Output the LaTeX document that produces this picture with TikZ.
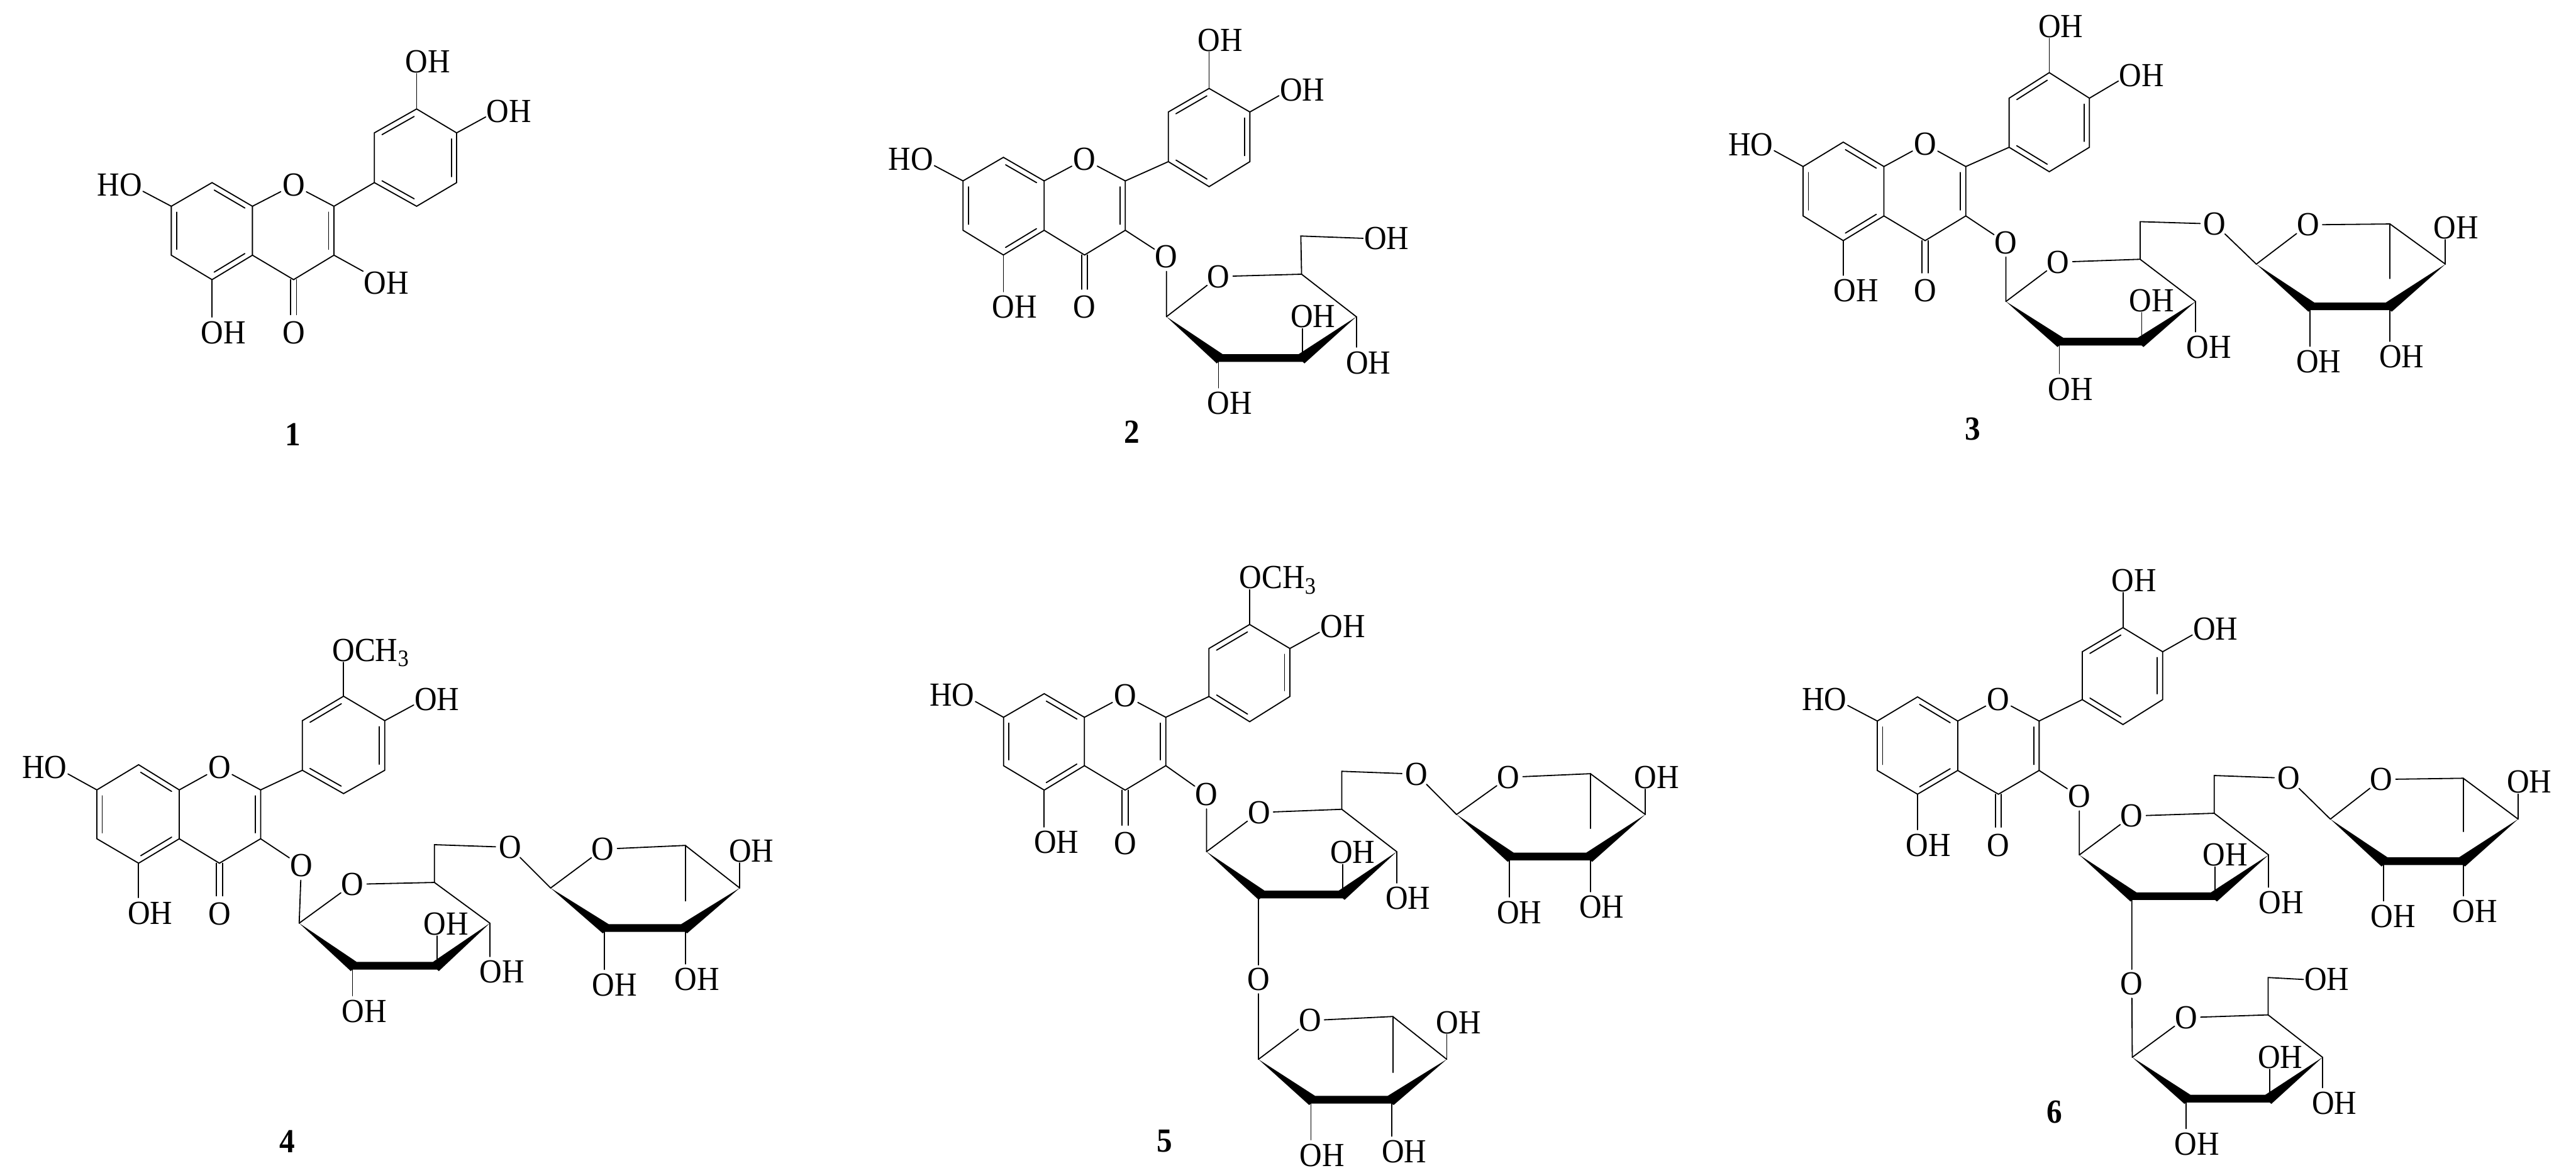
\documentclass[tikz,border=0pt]{standalone}
\usepackage{fontspec}
\setmainfont{Liberation Serif}[FakeStretch=0.92]
\usetikzlibrary{calc}
\tikzset{
  bond/.style={line width=0.55pt,line cap=round,line join=miter,draw=black},
  lab/.style={font=\fontsize{16.2}{18}\selectfont,inner sep=.01cm,text height=.37cm,text depth=0pt,anchor=center},
  oxy/.style={font=\fontsize{16.2}{18}\selectfont,circle,inner sep=-.02cm,text height=.37cm,text depth=0pt,anchor=center},
  molno/.style={font=\fontsize{16.2}{18}\selectfont\bfseries,inner sep=0pt,anchor=center},
  gap/.style={shorten >=.06cm}
}
\newcommand{\putatoms}[1]{\foreach \nm/\xx/\yy in {#1}{\coordinate (\nm) at (\xx,\yy);}}
\newcommand{\putlabels}[1]{\foreach \nm/\xx/\yy/\tx in {#1}{\node[lab] (\nm) at (\xx,\yy) {\tx};}}
\newcommand{\putoxy}[1]{\foreach \nm/\xx/\yy in {#1}{\node[oxy] (\nm) at (\xx,\yy) {O};}}
\newcommand{\dbond}[3]{\draw[bond] ($(#1)!.12!(#2)!.09cm!#3:(#2)$) -- ($(#1)!.88!(#2)!.09cm!#3:(#2)$);}
\newcommand{\ohup}[2]{\draw[bond] (#1) -- (#2.south -| #1);}
\newcommand{\ohdown}[2]{\draw[bond,gap] (#1) -- (#2.north -| #1);}
% the flavone skeleton
\newcommand{\flavone}{%
  \draw[bond] (c7) -- (c8) -- (c8a) -- (c4a) -- (c5) -- (c6) -- cycle;
  \draw[bond] (c8a) -- (o1) -- (c2) -- (c3) -- (c4) -- (c4a);
  \draw[bond] (c2) -- (c1p) -- (c2p) -- (c3p) -- (c4p) -- (c5p) -- (c6p) -- (c1p);
  \dbond{c7}{c6}{90}\dbond{c8}{c8a}{-90}\dbond{c4a}{c5}{-90}\dbond{c2}{c3}{-90}
  \dbond{c2p}{c3p}{-90}\dbond{c4p}{c5p}{-90}\dbond{c1p}{c6p}{90}
  \draw[bond,gap] ([xshift=-.05cm]c4) -- ([xshift=-.05cm]o4.north);
  \draw[bond,gap] ([xshift=.05cm]c4) -- ([xshift=.05cm]o4.north);
  \draw[bond] (c7) -- (o7.-15);
  \ohup{c3p}{o3p}
  \draw[bond] (c4p) -- (o4p.194);
  \ohdown{c5}{o5}
}
% pyranose ring: s1 s2 s3 s4 s5 ringO
\newcommand{\sugarring}[6]{%
  \draw[bond] (#1) -- (#6) -- (#5) -- (#4);
  \fill[black] (#1) -- ([shift={(.07cm,.065cm)}]#2) -- ([shift={(-.07cm,.065cm)}]#3) -- (#4)
    -- ([shift={(.03cm,-.09cm)}]#3) -- ([yshift=-.065cm]#3) -- ([yshift=-.065cm]#2)
    -- ([shift={(-.03cm,-.09cm)}]#2) -- cycle;
}
\begin{document}
\begin{tikzpicture}
\useasboundingbox[fill=white] (0,0) rectangle (43.53,-19.81);

% ---------- 1 ----------
\begin{scope}[shift={(1.30,-0.50)},x=.006378cm,y=-.004591cm,name prefix=a-]
\putatoms{c7/250/650,c8/358/563,c8a/465/650,c2/681/650,c3/681/830,c4/574/920,c4a/465/830,c5/358/920,c6/250/830,c1p/788/563,c2p/788/380,c3p/900/292,c4p/1006/380,c5p/1006/563,c6p/900/650}
\putoxy{o1/574/572,o4/574/1115}
\putlabels{o7/113/572/HO,o3p/930/118/OH,o4p/1145/300/OH,o3/820/933/OH,o5/388/1115/OH}
\flavone
\draw[bond] (c3) -- (o3.north west);
\node[molno] (no) at (572,1490) {1};
\end{scope}

% ---------- 2 ----------
\begin{scope}[shift={(14.50,0)},x=.006378cm,y=-.004847cm,name prefix=b-]
\putatoms{c7/278/630,c8/385/548,c8a/493/630,c2/708/630,c3/708/802,c4/600/888,c4a/493/802,c5/385/888,c6/278/802,c1p/822/563,c2p/822/390,c3p/930/308,c4p/1038/390,c5p/1038/563,c6p/930/650}
\putatoms{s1/817/1103,s2/955/1247,s3/1178/1247,s4/1320/1103,s5/1175/955,s6/1173/822}
\putoxy{o1/600/555,o4/600/1070,o3/817/895,so/955/963}
\putlabels{o7/140/555/HO,o3p/960/140/OH,o4p/1177/313/OH,o5/415/1070/OH,sh3/1205/1103/OH,sh4/1352/1263/OH,sh2/985/1405/OH,sh6/1400/830/OH}
\flavone
\draw[bond] (c3) -- (o3) -- (s1);
\sugarring{s1}{s2}{s3}{s4}{s5}{so}
\draw[bond] (s5) -- (s6) -- (sh6.west);
\ohup{s3}{sh3}\ohdown{s4}{sh4}\ohdown{s2}{sh2}
\node[molno] (no) at (725,1505) {2};
\end{scope}

% ---------- 3 ----------
\begin{scope}[shift={(28.80,0)},x=.0089286cm,y=-.004847cm,name prefix=c-]
\putatoms{c7/187/580,c8/263/495,c8a/340/580,c2/495/580,c3/495/752,c4/418/838,c4a/340/752,c5/263/838,c6/187/752,c1p/577/513,c2p/577/342,c3p/653/253,c4p/729/342,c5p/729/513,c6p/653/598}
\putatoms{s1/571/1050,s2/672/1190,s3/828/1190,s4/930/1050,s5/825/903,s6/825/772}
\putatoms{r1/1045/920,r2/1147/1067,r3/1298/1067,r4/1403/920,r5/1298/780,r6/1298/970}
\putoxy{o1/418/502,o4/418/1013,o3/571/845,so/670/913,lk/966/780,ro/1143/783}
\putlabels{o7/88/503/HO,o3p/675/92/OH,o4p/828/262/OH,o5/287/1013/OH,sh3/847/1047/OH,sh4/955/1210/OH,sh2/693/1355/OH,rh4/1423/793/OH,rh2/1163/1260/OH,rh3/1320/1243/OH}
\flavone
\draw[bond] (c3) -- (o3) -- (s1);
\sugarring{s1}{s2}{s3}{s4}{s5}{so}
\draw[bond] (s5) -- (s6) -- (lk) -- (r1);
\ohup{s3}{sh3}\ohdown{s4}{sh4}\ohdown{s2}{sh2}
\sugarring{r1}{r2}{r3}{r4}{r5}{ro}
\draw[bond] (r5) -- (r6);
\ohup{r4}{rh4}\ohdown{r2}{rh2}\ohdown{r3}{rh3}
\node[molno] (no) at (508,1495) {3};
\end{scope}

% ---------- 4 ----------
\begin{scope}[shift={(0.20,-10.00)},x=.0089286cm,y=-.006256cm,name prefix=d-]
\putatoms{c7/161/535,c8/240/467,c8a/317/535,c2/471/535,c3/471/667,c4/393/733,c4a/317/667,c5/240/733,c6/161/667,c1p/550/482,c2p/550/348,c3p/628/282,c4p/706/348,c5p/706/482,c6p/628/545}
\putatoms{s1/544/895,s2/645/1010,s3/805/1010,s4/905/895,s5/800/785,s6/800/683}
\putatoms{r1/1020/800,r2/1122/908,r3/1275/908,r4/1378/800,r5/1275/685,r6/1275/835}
\putoxy{o1/393/475,o4/393/870,o3/548/740,so/645/790,lk/943/690,ro/1119/695}
\putlabels{o7/62/475/HO,o3p/680/158/OCH\textsubscript{3},o4p/805/290/OH,o5/262/868/OH,sh3/822/897/OH,sh4/928/1027/OH,sh2/667/1133/OH,rh4/1400/700/OH,rh2/1141/1062/OH,rh3/1297/1047/OH}
\flavone
\draw[bond] (c3) -- (o3) -- (s1);
\sugarring{s1}{s2}{s3}{s4}{s5}{so}
\draw[bond] (s5) -- (s6) -- (lk) -- (r1);
\ohup{s3}{sh3}\ohdown{s4}{sh4}\ohdown{s2}{sh2}
\sugarring{r1}{r2}{r3}{r4}{r5}{ro}
\draw[bond] (r5) -- (r6);
\ohup{r4}{rh4}\ohdown{r2}{rh2}\ohdown{r3}{rh3}
\node[molno] (no) at (521,1485) {4};
\end{scope}

% ---------- 5 ----------
\begin{scope}[shift={(15.40,-9.20)},x=.0082908cm,y=-.0067666cm,name prefix=e-]
\putatoms{c7/188/432,c8/271/373,c8a/353/432,c2/519/432,c3/519/553,c4/436/614,c4a/353/553,c5/271/614,c6/188/553,c1p/607/380,c2p/607/260,c3p/690/200,c4p/772/260,c5p/772/380,c6p/690/443}
\putatoms{s1/602/768,s2/712/875,s3/880/875,s4/990/768,s5/878/662,s6/878/567}
\putatoms{r1/1112/675,r2/1220/780,r3/1385/780,r4/1497/675,r5/1385/573,r6/1385/710}
\putatoms{t1/708/1287,t2/815/1388,t3/980/1388,t4/1092/1287,t5/982/1180,t6/982/1320}
\putoxy{o1/436/378,o4/436/747,o3/602/625,so/709/670,lk/1030/574,ro/1218/582,lt/708/1087,to/813/1190}
\putlabels{o7/83/377/HO,o3p/748/83/OCH\textsubscript{3},o4p/880/205/OH,o5/296/745/OH,sh3/900/770/OH,sh4/1013/885/OH,rh4/1520/582/OH,rh2/1240/920/OH,rh3/1408/907/OH,th4/1116/1195/OH,th2/838/1527/OH,th3/1005/1518/OH}
\flavone
\draw[bond] (c3) -- (o3) -- (s1);
\sugarring{s1}{s2}{s3}{s4}{s5}{so}
\draw[bond] (s5) -- (s6) -- (lk) -- (r1);
\ohup{s3}{sh3}\ohdown{s4}{sh4}
\sugarring{r1}{r2}{r3}{r4}{r5}{ro}
\draw[bond] (r5) -- (r6);
\ohup{r4}{rh4}\ohdown{r2}{rh2}\ohdown{r3}{rh3}
\draw[bond] (lt |- s2) -- (lt) -- (t1);
\sugarring{t1}{t2}{t3}{t4}{t5}{to}
\draw[bond] (t5) -- (t6);
\ohup{t4}{th4}\ohdown{t2}{th2}\ohdown{t3}{th3}
\node[molno] (no) at (517,1492) {5};
\end{scope}

% ---------- 6 ----------
\begin{scope}[shift={(30.00,-9.50)},x=.0082908cm,y=-.006575cm,name prefix=f-]
\putatoms{c7/208/408,c8/290/346,c8a/372/408,c2/538/408,c3/538/535,c4/455/596,c4a/372/535,c5/290/596,c6/208/535,c1p/626/353,c2p/626/230,c3p/709/168,c4p/790/230,c5p/790/353,c6p/709/417}
\putatoms{s1/620/752,s2/728/858,s3/897/858,s4/1006/752,s5/895/645,s6/895/548}
\putatoms{r1/1132/660,r2/1240/768,r3/1403/768,r4/1515/660,r5/1403/555,r6/1403/692}
\putatoms{t1/728/1272,t2/838/1378,t3/1008/1378,t4/1116/1272,t5/1005/1163,t6/1005/1067}
\putoxy{o1/455/352,o4/455/727,o3/620/602,so/727/652,lk/1047/555,ro/1236/558,lt/727/1083,to/838/1170}
\putlabels{o7/100/352/HO,o3p/732/47/OH,o4p/898/172/OH,o5/312/727/OH,sh3/918/752/OH,sh4/1032/875/OH,rh4/1538/565/OH,rh2/1260/910/OH,rh3/1427/897/OH,th3/1030/1272/OH,th4/1140/1390/OH,th2/860/1495/OH,th6/1125/1072/OH}
\flavone
\draw[bond] (c3) -- (o3) -- (s1);
\sugarring{s1}{s2}{s3}{s4}{s5}{so}
\draw[bond] (s5) -- (s6) -- (lk) -- (r1);
\ohup{s3}{sh3}\ohdown{s4}{sh4}
\sugarring{r1}{r2}{r3}{r4}{r5}{ro}
\draw[bond] (r5) -- (r6);
\ohup{r4}{rh4}\ohdown{r2}{rh2}\ohdown{r3}{rh3}
\draw[bond] (lt |- s2) -- (lt) -- (t1);
\sugarring{t1}{t2}{t3}{t4}{t5}{to}
\draw[bond] (t5) -- (t6) -- (th6.west);
\ohup{t3}{th3}\ohdown{t4}{th4}\ohdown{t2}{th2}
\node[molno] (no) at (570,1412) {6};
\end{scope}
\end{tikzpicture}
\end{document}
